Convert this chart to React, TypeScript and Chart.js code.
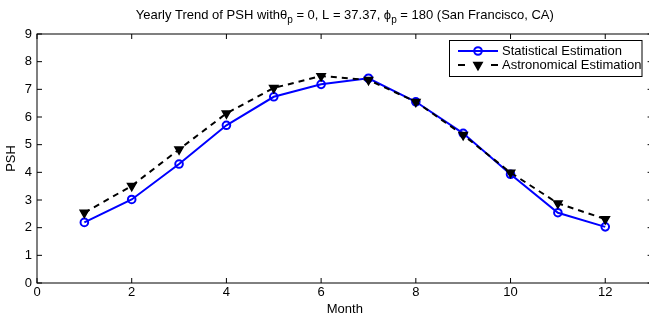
import React, { useEffect, useRef } from "react";
import { Chart, registerables } from "chart.js";

Chart.register(...registerables);

// ---- data ----
const months = [1, 2, 3, 4, 5, 6, 7, 8, 9, 10, 11, 12];
const statistical = [2.19, 3.02, 4.3, 5.7, 6.73, 7.18, 7.4, 6.55, 5.41, 3.93, 2.54, 2.03];
const astronomical = [2.54, 3.51, 4.83, 6.13, 7.05, 7.48, 7.34, 6.55, 5.35, 3.99, 2.88, 2.31];
const seriesNames = ["Statistical Estimation", "Astronomical Estimation"];
const xTicks = [0, 2, 4, 6, 8, 10, 12];
const yTicks = [0, 1, 2, 3, 4, 5, 6, 7, 8, 9];
const xRange = [0, 13];
const yRange = [0, 9];
const xTitle = "Month";
const yTitle = "PSH";
// title segments: [text, isSubscript]
const titleParts: [string, boolean][] = [
  ["Yearly Trend of PSH with", false],
  ["θ", false],
  ["p", true],
  [" = 0, L = 37.37, ", false],
  ["ϕ", false],
  ["p", true],
  [" = 180 (San Francisco, CA)", false],
];

const FONT = "'Liberation Sans', Arial, Helvetica, sans-serif";
const FS = 13;
const BLUE = "#0000ff";
const BLACK = "#000000";

const boxPlugin = {
  id: "matlabBox",
  afterDatasetsDraw(chart: any) {
    const { ctx, chartArea: a, scales } = chart;
    ctx.save();
    ctx.strokeStyle = "#000";
    ctx.lineWidth = 1;
    ctx.strokeRect(a.left, a.top, a.right - a.left, a.bottom - a.top);
    const tl = 5;
    ctx.beginPath();
    for (const v of xTicks) {
      const px = scales.x.getPixelForValue(v);
      ctx.moveTo(px, a.bottom);
      ctx.lineTo(px, a.bottom - tl);
      ctx.moveTo(px, a.top);
      ctx.lineTo(px, a.top + tl);
    }
    for (const v of yTicks) {
      const py = scales.y.getPixelForValue(v);
      ctx.moveTo(a.left, py);
      ctx.lineTo(a.left + tl, py);
      ctx.moveTo(a.right, py);
      ctx.lineTo(a.right - tl, py);
    }
    ctx.stroke();
    ctx.restore();
  },
};

const titlePlugin = {
  id: "matlabTitle",
  afterDraw(chart: any) {
    const { ctx, chartArea: a } = chart;
    ctx.save();
    const mainFont = `${FS}px ${FONT}`;
    const subFont = `10px ${FONT}`;
    let total = 0;
    for (const [t, sub] of titleParts) {
      ctx.font = sub ? subFont : mainFont;
      total += ctx.measureText(t).width;
    }
    let x = (a.left + a.right) / 2 - total / 2;
    const baseY = 19;
    ctx.fillStyle = "#000";
    ctx.textBaseline = "alphabetic";
    ctx.textAlign = "left";
    for (const [t, sub] of titleParts) {
      ctx.font = sub ? subFont : mainFont;
      ctx.fillText(t, x, sub ? baseY + 4 : baseY);
      x += ctx.measureText(t).width;
    }
    ctx.restore();
  },
};

const legendPlugin = {
  id: "matlabLegend",
  afterDraw(chart: any) {
    const { ctx } = chart;
    const left = 449.5, top = 40.5, right = 642, bottom = 76.5;
    ctx.save();
    ctx.fillStyle = "#fff";
    ctx.fillRect(left, top, right - left, bottom - top);
    ctx.strokeStyle = "#000";
    ctx.lineWidth = 1;
    ctx.strokeRect(left, top, right - left, bottom - top);
    const rows = [51, 65];
    chart.data.datasets.forEach((ds: any, i: number) => {
      const y = rows[i];
      ctx.save();
      ctx.strokeStyle = ds.borderColor;
      ctx.lineWidth = ds.borderWidth;
      ctx.beginPath();
      if (ds.borderDash && ds.borderDash.length) {
        ctx.moveTo(458, y);
        ctx.lineTo(465, y);
        ctx.moveTo(491, y);
        ctx.lineTo(498, y);
      } else {
        ctx.moveTo(458, y);
        ctx.lineTo(498, y);
      }
      ctx.stroke();
      const cx = 478;
      if (ds.pointStyle === "circle") {
        ctx.lineWidth = ds.pointBorderWidth;
        ctx.strokeStyle = ds.pointBorderColor;
        ctx.beginPath();
        ctx.arc(cx, y, ds.pointRadius, 0, Math.PI * 2);
        ctx.stroke();
      } else {
        const r = ds.pointRadius;
        ctx.fillStyle = ds.pointBackgroundColor;
        ctx.strokeStyle = ds.pointBorderColor;
        ctx.lineWidth = ds.pointBorderWidth;
        ctx.beginPath();
        ctx.moveTo(cx, y + r);
        ctx.lineTo(cx - r * Math.sin(Math.PI / 3), y - r / 2);
        ctx.lineTo(cx + r * Math.sin(Math.PI / 3), y - r / 2);
        ctx.closePath();
        ctx.fill();
        ctx.stroke();
      }
      ctx.restore();
      ctx.fillStyle = "#000";
      ctx.font = `${FS}px ${FONT}`;
      ctx.textBaseline = "middle";
      ctx.textAlign = "left";
      ctx.fillText(seriesNames[i], 502, y);
    });
    ctx.restore();
  },
};

export default function App() {
  const ref = useRef<HTMLCanvasElement>(null);
  useEffect(() => {
    if (!ref.current) return;
    const chart = new Chart(ref.current, {
      type: "line",
      data: {
        datasets: [
          {
            label: seriesNames[0],
            data: months.map((m, i) => ({ x: m, y: statistical[i] })),
            borderColor: BLUE,
            borderWidth: 2,
            pointStyle: "circle",
            pointRadius: 3.8,
            pointBorderWidth: 2,
            pointBorderColor: BLUE,
            pointBackgroundColor: "rgba(255,255,255,0)",
            tension: 0,
            order: 2,
          },
          {
            label: seriesNames[1],
            data: months.map((m, i) => ({ x: m, y: astronomical[i] })),
            borderColor: BLACK,
            borderWidth: 2,
            borderDash: [6, 5],
            pointStyle: "triangle",
            pointRotation: 180,
            pointRadius: 4.8,
            pointBorderWidth: 1.5,
            pointBorderColor: BLACK,
            pointBackgroundColor: BLACK,
            tension: 0,
            order: 1,
          },
        ] as any,
      },
      options: {
        animation: false,
        responsive: false,
        devicePixelRatio: 1,
        layout: { padding: { top: 34, right: 7.4, left: 0, bottom: 0 } },
        plugins: {
          legend: { display: false },
          title: { display: false },
          tooltip: { enabled: false },
        },
        scales: {
          x: {
            type: "linear",
            min: xRange[0],
            max: xRange[1],
            afterBuildTicks: (s: any) => {
              s.ticks = xTicks.map((v) => ({ value: v }));
            },
            afterFit: (s: any) => {
              s.height = 37;
            },
            grid: { display: false, drawTicks: false },
            border: { display: false },
            ticks: {
              padding: 2,
              color: "#000",
              font: { family: FONT, size: FS },
              maxRotation: 0,
              autoSkip: false,
            },
            title: {
              display: true,
              text: xTitle,
              color: "#000",
              font: { family: FONT, size: FS },
              padding: { top: 0, bottom: 3 },
            },
          },
          y: {
            type: "linear",
            min: yRange[0],
            max: yRange[1],
            afterBuildTicks: (s: any) => {
              s.ticks = yTicks.map((v) => ({ value: v }));
            },
            afterFit: (s: any) => {
              s.width = 37;
            },
            grid: { display: false, drawTicks: false },
            border: { display: false },
            ticks: {
              padding: 5,
              color: "#000",
              font: { family: FONT, size: FS },
              autoSkip: false,
            },
            title: {
              display: true,
              text: yTitle,
              color: "#000",
              font: { family: FONT, size: FS },
              padding: { top: 4, bottom: 0 },
            },
          },
        },
      } as any,
      plugins: [boxPlugin, titlePlugin, legendPlugin],
    });
    return () => chart.destroy();
  }, []);
  return (
    <div
      style={{
        position: "fixed",
        left: 0,
        top: 0,
        width: 649,
        height: 320,
        overflow: "hidden",
        background: "#fff",
      }}
    >
      <canvas ref={ref} width={660} height={320} style={{ width: 660, height: 320, display: "block" }} />
    </div>
  );
}
